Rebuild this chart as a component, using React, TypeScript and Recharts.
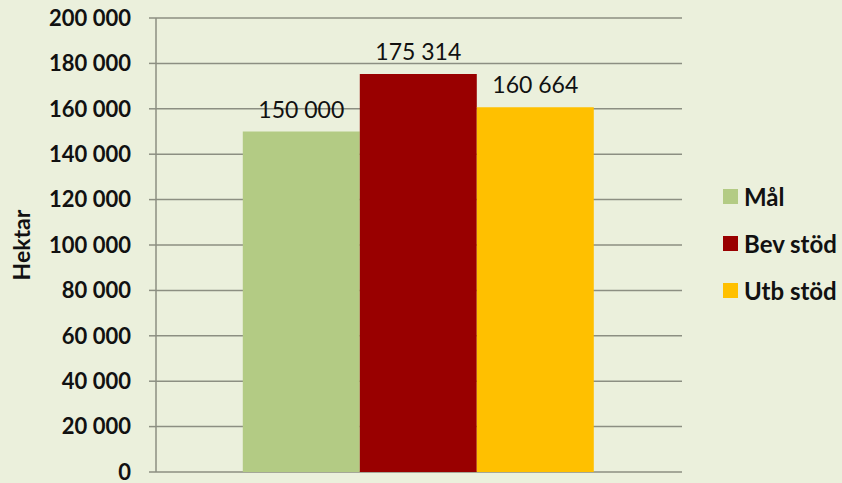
import React from 'react';
import { BarChart, Bar, XAxis, YAxis, CartesianGrid, Legend, LabelList } from 'recharts';

const categories = ['Hektar'];
const seriesNames = ['Mål', 'Bev stöd', 'Utb stöd'];
const seriesValues = [150000, 175314, 160664];
const seriesColors = ['#b3cb84', '#990000', '#ffc000'];
const yTicks = [0, 20000, 40000, 60000, 80000, 100000, 120000, 140000, 160000, 180000, 200000];

const FONT = 'Lato, "Open Sans", sans-serif';
const GRID = '#8c8f82';

// thousands separated by a space, as in the original
const fmt = (v: number) => String(v).replace(/\B(?=(\d{3})+(?!\d))/g, ' ');

const data = categories.map((c) => {
    const row: { [key: string]: string | number } = { name: c };
    seriesNames.forEach((s, i) => {
        row[s] = seriesValues[i];
    });
    return row;
});

const LegendBox = () => (
    <div style={{ fontFamily: FONT, fontWeight: 700, fontSize: 24, color: '#111', lineHeight: 1 }}>
        {seriesNames.map((s, i) => (
            <div key={s} style={{ display: 'flex', alignItems: 'center', height: 47 }}>
                <span style={{ width: 15, height: 15, background: seriesColors[i], marginRight: 6, display: 'inline-block', flexShrink: 0 }} />
                <span style={{ whiteSpace: 'nowrap' }}>{s}</span>
            </div>
        ))}
    </div>
);

const App: React.FC = () => {
    return (
        <div style={{ position: 'absolute', left: 0, top: 0, width: 842, height: 483, background: '#ebf0dc' }}>
            <BarChart
                width={842}
                height={483}
                data={data}
                margin={{ top: 18, right: 40, left: 0, bottom: 11 }}
                barCategoryGap="16.5%"
                barGap={0}
            >
                <CartesianGrid vertical={false} stroke={GRID} strokeWidth={1.5} />
                <XAxis dataKey="name" tick={false} axisLine={{ stroke: GRID, strokeWidth: 1.5 }} tickLine={false} height={0} />
                <YAxis
                    width={156}
                    domain={[0, 200000]}
                    ticks={yTicks}
                    interval={0}
                    tickFormatter={fmt}
                    tickSize={7}
                    tickMargin={18}
                    axisLine={{ stroke: GRID, strokeWidth: 1.5 }}
                    tickLine={{ stroke: GRID, strokeWidth: 1.5 }}
                    tick={{ fontFamily: FONT, fontWeight: 700, fontSize: 22, fill: '#111' }}
                    label={{
                        value: 'Hektar',
                        angle: -90,
                        position: 'insideLeft',
                        offset: 22,
                        style: { fontFamily: FONT, fontWeight: 700, fontSize: 23, fill: '#111', textAnchor: 'middle' },
                    }}
                />
                <Legend
                    layout="vertical"
                    align="right"
                    verticalAlign="top"
                    content={<LegendBox />}
                    wrapperStyle={{ left: 723, top: 173, width: 120 }}
                />
                {seriesNames.map((s, i) => (
                    <Bar key={s} dataKey={s} fill={seriesColors[i]} isAnimationActive={false}>
                        <LabelList
                            dataKey={s}
                            position="top"
                            offset={14}
                            formatter={(v: any) => fmt(Number(v))}
                            style={{ fontFamily: FONT, fontSize: 23, fill: '#111' }}
                        />
                    </Bar>
                ))}
            </BarChart>
        </div>
    );
};

export default App;
